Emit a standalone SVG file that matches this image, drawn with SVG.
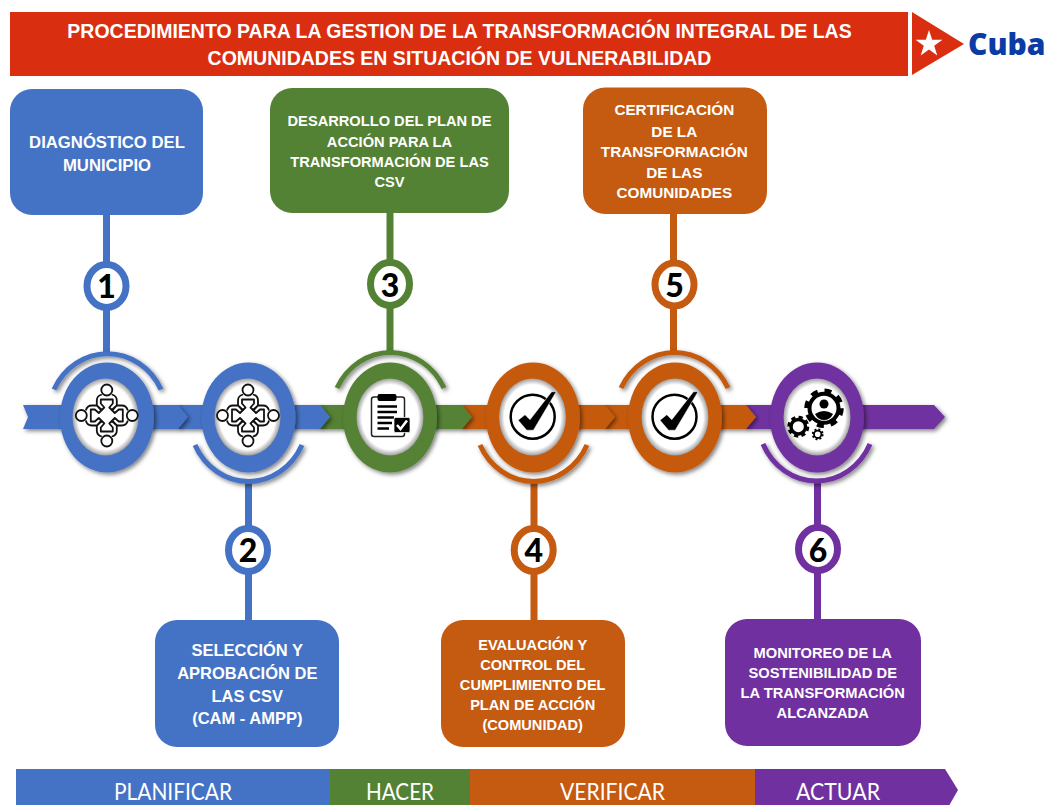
<svg xmlns="http://www.w3.org/2000/svg" width="1049" height="805" viewBox="0 0 1049 805">
<style>
.b{fill:#4472C4}.g{fill:#548235}.o{fill:#C55A11}.p{fill:#7030A0}
.sb{stroke:#4472C4}.sg{stroke:#548235}.so{stroke:#C55A11}.sp{stroke:#7030A0}
.t{font-family:"Liberation Sans",Arial,sans-serif;font-weight:700;fill:#fff;text-anchor:middle}
.num{font-family:Lato,"Open Sans",sans-serif;font-weight:900;fill:#000;text-anchor:middle;font-size:32px}
.band{font-family:Lato,"Open Sans",sans-serif;fill:#fff;text-anchor:middle;font-size:24px}
.arc{fill:none;stroke-width:5;filter:url(#sh)}
.stem{fill:none;stroke-width:7}
.badge{fill:#fff;stroke-width:7}
.ring{filter:url(#sh)}
.fig{fill:#fff;stroke:#111;stroke-width:1.8;stroke-linejoin:round}
</style>
<defs>
<filter id="sh" x="-30%" y="-30%" width="160%" height="160%"><feDropShadow dx="2" dy="2" stdDeviation="2" flood-color="#000" flood-opacity=".5"/></filter>
<radialGradient id="inner"><stop offset=".84" stop-color="#fff"/><stop offset="1" stop-color="#a0a0a0"/></radialGradient>
<g id="person">
<path class="fig" d="M-5,-21 C-9,-20 -10,-18 -10,-15 L-10,-10 L-5,-5.5 L-2.5,-8 L-6,-12 L-6,-16 L6,-16 L6,-12 L2.5,-8 L5,-5.5 L10,-10 L10,-15 C10,-18 9,-20 5,-21"/>
<circle cx="0" cy="-25.5" r="5.500" class="fig"/>
</g>
<g id="people">
<use href="#person"/><use href="#person" transform="rotate(90)"/><use href="#person" transform="rotate(180)"/><use href="#person" transform="rotate(270)"/>
</g>
<g id="check">
<circle r="22" fill="#fff" stroke="#000" stroke-width="2.500"/>
<polygon fill="#000" stroke="#fff" stroke-width=".5" points="-14.500,3.500 -7.700,-2 -2.700,3 19,-25 23.500,-25 0.700,13.500 -6,13.500"/>
</g>
</defs>

<g id="title">
<rect x="10" y="12" width="898" height="64" fill="#DA2E11"/>
<text class="t" font-size="19.500" x="459.500" y="38">PROCEDIMIENTO PARA LA GESTION DE LA TRANSFORMACIÓN INTEGRAL DE LAS</text>
<text class="t" font-size="19.500" x="459.500" y="65">COMUNIDADES EN SITUACIÓN DE VULNERABILIDAD</text>
</g>
<g id="logo">
<polygon points="912,12 964,44 912,75" fill="#DA2E11"/>
<polygon fill="#fff" points="929,30 932.200,39.800 942.500,39.800 934.200,45.800 937.300,55.500 929,49.500 920.700,55.500 923.800,45.800 915.500,39.800 925.800,39.800"/>
<text x="968" y="55" font-family="'Open Sans','Noto Sans',sans-serif" font-weight="800" font-size="30" fill="#0B3BA5">Cuba</text>
</g>

<g id="connectors">
<path class="stem sb" d="M106.500,215V354"/>
<path class="stem sg" d="M390,213V352"/>
<path class="stem so" d="M673.500,214V352"/>
<path class="stem sb" d="M248.500,482V620"/>
<path class="stem so" d="M534,482V620"/>
<path class="stem sp" d="M817.500,480V619"/>
</g>

<g id="flow-bar">
<polygon class="p" filter="url(#sh)" points="746,405 934,405 945,417 934,429 746,429"/>
<polygon class="o" filter="url(#sh)" points="605,405 746,405 756,417 746,429 605,429"/>
<polygon class="o" filter="url(#sh)" points="462,405 605,405 615,417 605,429 462,429"/>
<polygon class="g" filter="url(#sh)" points="320,405 462,405 472,417 462,429 320,429"/>
<polygon class="b" filter="url(#sh)" points="178,405 320,405 330,417 320,429 178,429"/>
<polygon class="b" filter="url(#sh)" points="23,405 178,405 188,417 178,429 23,429 28,417"/>
</g>

<g id="step-1">
<rect class="b" x="10" y="89" width="193" height="126" rx="22"/>
<text class="t" font-size="16.700" x="107" y="148">DIAGNÓSTICO DEL</text>
<text class="t" font-size="16.700" x="107" y="171">MUNICIPIO</text>
<ellipse class="badge sb" cx="106.500" cy="286" rx="19.500" ry="21.500"/>
<text class="num" x="106.500" y="298">1</text>
<path class="arc sb" d="M54,389.500 A59.500,63.500 0 0 1 161,389.500"/>
<ellipse class="b ring" cx="107" cy="417.500" rx="47" ry="55"/>
<ellipse fill="url(#inner)" cx="105.500" cy="417" rx="33" ry="38.500"/>
<use href="#people" transform="translate(106.800,415.500)"/>
</g>

<g id="step-2">
<rect class="b" x="155" y="620" width="184" height="127" rx="22"/>
<text class="t" font-size="16.500" x="247.300" y="656">SELECCIÓN Y</text>
<text class="t" font-size="16.500" x="247.300" y="678.500">APROBACIÓN DE</text>
<text class="t" font-size="16.500" x="247.300" y="701.500">LAS CSV</text>
<text class="t" font-size="16.500" x="247.300" y="724">(CAM - AMPP)</text>
<ellipse class="badge sb" cx="248" cy="550" rx="19.500" ry="21.500"/>
<text class="num" x="248" y="562">2</text>
<path class="arc sb" d="M195,445 A59.500,65 0 0 0 302,445"/>
<ellipse class="b ring" cx="248.500" cy="417.500" rx="47" ry="55"/>
<ellipse fill="url(#inner)" cx="247.500" cy="417" rx="33" ry="38.500"/>
<use href="#people" transform="translate(248,415.500)"/>
</g>

<g id="step-3">
<rect class="g" x="270" y="88" width="239" height="125" rx="22"/>
<text class="t" font-size="14.650" x="389.500" y="126">DESARROLLO DEL PLAN DE</text>
<text class="t" font-size="14.650" x="389.500" y="146.500">ACCIÓN PARA LA</text>
<text class="t" font-size="14.650" x="389.500" y="167">TRANSFORMACIÓN DE LAS</text>
<text class="t" font-size="14.650" x="389.500" y="187">CSV</text>
<ellipse class="badge sg" cx="390" cy="284" rx="19.500" ry="21.500"/>
<text class="num" x="390" y="296.500">3</text>
<path class="arc sg" d="M337,388 A60,65 0 0 1 444,388"/>
<ellipse class="g ring" cx="390" cy="417.500" rx="47" ry="55"/>
<ellipse fill="url(#inner)" cx="390" cy="417" rx="33.500" ry="38.500"/>
<g id="clipboard">
<rect x="371.500" y="397" width="33" height="39.500" rx="2.500" fill="#fff" stroke="#222" stroke-width="1.500"/>
<rect x="377.500" y="394" width="19" height="7" rx="2" fill="#000"/>
<path d="M377.500,406.500H397M377.500,412H397M377.500,417.500H394M377.500,423H392M377.500,428.500H389" stroke="#000" stroke-width="2.500" fill="none"/>
<rect x="394" y="417.500" width="16" height="15" rx="1.500" fill="#000" stroke="#fff" stroke-width=".7"/>
<path d="M397,425 L400.500,429 L407,420.500" fill="none" stroke="#fff" stroke-width="2.500"/>
</g>
</g>

<g id="step-4">
<rect class="o" x="441" y="620" width="184" height="127" rx="22"/>
<text class="t" font-size="14.600" x="532.700" y="649.500">EVALUACIÓN Y</text>
<text class="t" font-size="14.600" x="532.700" y="670">CONTROL DEL</text>
<text class="t" font-size="14.600" x="532.700" y="690">CUMPLIMIENTO DEL</text>
<text class="t" font-size="14.600" x="532.700" y="709.500">PLAN DE ACCIÓN</text>
<text class="t" font-size="14.600" x="532.700" y="729.500">(COMUNIDAD)</text>
<ellipse class="badge so" cx="533.700" cy="550" rx="19.500" ry="21.500"/>
<text class="num" x="533.700" y="562">4</text>
<path class="arc so" d="M480,445 A59.500,65 0 0 0 587,445"/>
<ellipse class="o ring" cx="533" cy="417.500" rx="47" ry="55"/>
<ellipse fill="url(#inner)" cx="532.500" cy="417" rx="33.500" ry="38.500"/>
<use href="#check" transform="translate(532.700,416.700)"/>
</g>

<g id="step-5">
<rect class="o" x="583" y="87.500" width="184" height="126.500" rx="22"/>
<text class="t" font-size="15.300" x="674.300" y="115">CERTIFICACIÓN</text>
<text class="t" font-size="15.300" x="674.300" y="136.500">DE LA</text>
<text class="t" font-size="15.300" x="674.300" y="157.300">TRANSFORMACIÓN</text>
<text class="t" font-size="15.300" x="674.300" y="178">DE LAS</text>
<text class="t" font-size="15.300" x="674.300" y="198.300">COMUNIDADES</text>
<ellipse class="badge so" cx="674.500" cy="284.500" rx="19.500" ry="21.500"/>
<text class="num" x="674.500" y="297">5</text>
<path class="arc so" d="M621,388 A60,65 0 0 1 728,388"/>
<ellipse class="o ring" cx="675" cy="417.500" rx="47" ry="55"/>
<ellipse fill="url(#inner)" cx="675" cy="417" rx="33.500" ry="38.500"/>
<use href="#check" transform="translate(674.500,416.700)"/>
</g>

<g id="step-6">
<rect class="p" x="725" y="619" width="196" height="127" rx="22"/>
<text class="t" font-size="14.700" x="822.700" y="657.700">MONITOREO DE LA</text>
<text class="t" font-size="14.700" x="822.700" y="678.300">SOSTENIBILIDAD DE</text>
<text class="t" font-size="14.700" x="822.700" y="698.300">LA TRANSFORMACIÓN</text>
<text class="t" font-size="14.700" x="822.700" y="717.700">ALCANZADA</text>
<ellipse class="badge sp" cx="818" cy="549" rx="19.500" ry="21.500"/>
<text class="num" x="818" y="561.500">6</text>
<path class="arc sp" d="M763,444 A59,64 0 0 0 870,444"/>
<ellipse class="p ring" cx="817" cy="417.500" rx="47" ry="55"/>
<ellipse fill="url(#inner)" cx="817" cy="417" rx="33.500" ry="38.500"/>
<g id="gears" fill="none" stroke="#000">
<circle cx="824" cy="408.300" r="14.500" stroke-width="4" fill="#fff"/>
<circle cx="824" cy="408.300" r="17.500" stroke-width="4.500" stroke-dasharray="6.900 6.840"/>
<circle cx="824" cy="404" r="4.500" fill="#000" stroke="none"/>
<path d="M815,414 Q824,408 833,414 Q830,420 824,420 Q818,420 815,414Z" fill="#000" stroke="none"/>
<circle cx="798.300" cy="426.700" r="7.300" stroke-width="3.500"/>
<circle cx="798.300" cy="426.700" r="9.500" stroke-width="3" stroke-dasharray="4.200 3.260"/>
<circle cx="817.700" cy="434.300" r="3.700" stroke-width="1.800"/>
<circle cx="817.700" cy="434.300" r="5" stroke-width="1.800" stroke-dasharray="2 1.930"/>
</g>
</g>

<g id="phases">
<rect class="b" x="16" y="769" width="314" height="36"/>
<rect class="g" x="330" y="769" width="140" height="36"/>
<rect class="o" x="470" y="769" width="285" height="36"/>
<polygon class="p" points="755,769 945,769 958,790 946,811 755,811"/>
<text class="band" x="173" y="800" textLength="118" lengthAdjust="spacingAndGlyphs">PLANIFICAR</text>
<text class="band" x="400" y="800" textLength="68" lengthAdjust="spacingAndGlyphs">HACER</text>
<text class="band" x="612.500" y="800" textLength="105" lengthAdjust="spacingAndGlyphs">VERIFICAR</text>
<text class="band" x="838" y="800" textLength="84" lengthAdjust="spacingAndGlyphs">ACTUAR</text>
</g>
</svg>
